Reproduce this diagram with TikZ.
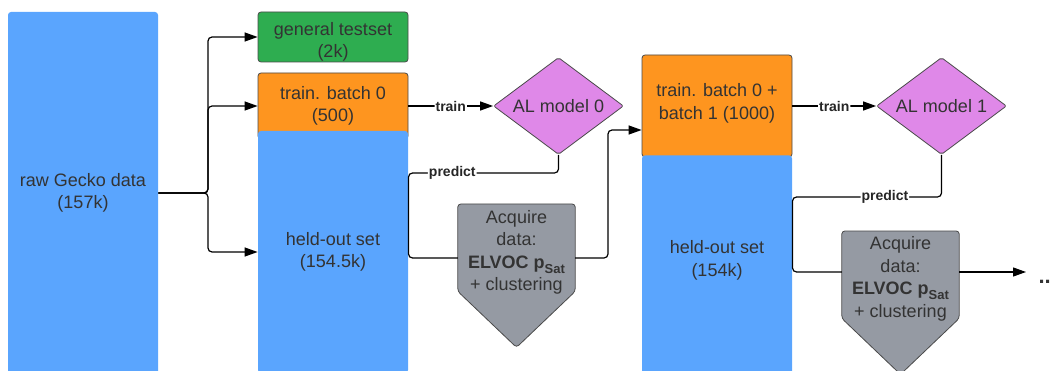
\documentclass[tikz,border=0pt]{standalone}
\usepackage{fontspec}
\setmainfont{Liberation Sans}
\usetikzlibrary{arrows.meta,shapes.geometric,calc}
\definecolor{cblue}{HTML}{5AA5FE}
\definecolor{cgreen}{HTML}{2EAD50}
\definecolor{corange}{HTML}{FE951F}
\definecolor{cpurple}{HTML}{DF88E8}
\definecolor{cgray}{HTML}{959AA3}
\definecolor{edge}{HTML}{4A4A4A}
\definecolor{txt}{HTML}{333333}
\begin{document}
\begin{tikzpicture}[x=1pt,y=-1pt,
  every node/.style={text=txt},
  font=\fontsize{18}{22.5}\selectfont,
  box/.style={rectangle, rounded corners=3pt, minimum width=150pt, align=center, inner sep=0pt, draw=edge, line width=0.8pt},
  bluebox/.style={box, fill=cblue, draw=none},
  txtnode/.style={align=center, inner sep=0pt},
  modelbox/.style={diamond, aspect=1.34, minimum width=130pt, minimum height=97pt, inner sep=0pt, fill=cpurple, draw=edge, line width=0.8pt, rounded corners=2pt},
  acqframe/.style={rectangle, minimum width=117pt, minimum height=87pt, inner sep=0pt},
  pent/.style={fill=cgray, draw=edge, line width=0.8pt, rounded corners=3pt},
  conn/.style={draw=black, line width=1.2pt, rounded corners=4pt},
  arr/.style={conn, -{Triangle[length=13pt,width=9pt]}},
  lbl/.style={font=\bfseries\fontsize{14}{14}\selectfont, fill=white, inner sep=1pt, text=black!85}
]
\useasboundingbox (0,0) rectangle (1056,371);
\clip (0,0) rectangle (1056,371);

% column 1
\node[bluebox, minimum height=362pt] (raw) at (83,193) {raw Gecko data\\(157k)};

% column 2
\node[box, fill=cgreen, minimum height=50pt] (test) at (333,37) {};
\node[txtnode] (testt) at (333,42) {general testset\\(2k)};
\node[box, fill=corange, minimum height=66pt] (b0) at (333,106) {train. batch 0\\(500)};
\node[bluebox, minimum height=242pt] (held0) at (333,252) {held-out set\\(154.5k)};

% model 0 and acquisition 0
\node[modelbox] (al0) at (558.5,106) {AL model 0};
\node[acqframe, anchor=north] (acq0) at (516.5,204) {};
\draw[pent] (acq0.north) -- (acq0.north east) -- (acq0.south east) -- ($(acq0.south)+(0,56)$) -- (acq0.south west) -- (acq0.north west) -- cycle;
\node[txtnode] (acq0t) at ($(acq0.center)+(0,4.5)$) {Acquire\\data:\\\textbf{ELVOC p\raisebox{-0.28em}{\fontsize{13}{13}\selectfont Sat}}\\+ clustering};

% column 3
\node[box, fill=corange, minimum height=102pt] (b1) at (717,106) {};
\node[txtnode] (b1t) at (717,103.5) {train. batch 0 +\\batch 1 (1000)};
\node[bluebox, minimum height=225pt, anchor=north] (held1) at (717,155) {};
\node[txtnode] (held1t) at (717,260.5) {held-out set\\(154k)};

% model 1 and acquisition 1
\node[modelbox] (al1) at (941.5,106) {AL model 1};
\node[acqframe, anchor=north] (acq1) at (900.5,231) {};
\draw[pent] (acq1.north) -- (acq1.north east) -- (acq1.south east) -- ($(acq1.south)+(0,56)$) -- (acq1.south west) -- (acq1.north west) -- cycle;
\node[txtnode] (acq1t) at ($(acq1.center)+(0,4)$) {Acquire\\data:\\\textbf{ELVOC p\raisebox{-0.28em}{\fontsize{13}{13}\selectfont Sat}}\\+ clustering};

\node[anchor=base west, font=\bfseries\fontsize{22}{22}\selectfont] (dots) at (1035,283) {..};

% connectors
\coordinate (split) at (208,193);
\draw[arr] (raw.east) -- (split) |- (test.west);
\draw[arr] (raw.east) -- (split) |- (b0.west);
\draw[arr] (raw.east) -- (split) |- (held0.west);

\draw[arr] (b0.east) -- node[lbl]{train} (al0.west);
\coordinate (p0) at (408.5,173);
\coordinate (acq0in) at (acq0.west |- 0,258);
\coordinate (acq0out) at (acq0.east |- 0,258);
\coordinate (r0) at (608,258);
\coordinate (t1) at (b1.west |- 0,130);
\draw[conn] (al0.south) |- node[lbl,pos=0.854]{predict} (p0) |- (acq0in);
\draw[arr] (acq0out) -- (r0) |- (t1);

\draw[arr] (b1.east) -- node[lbl]{train} (al1.west);
\coordinate (p1) at (792.5,197);
\coordinate (acq1in) at (acq1.west |- 0,272);
\coordinate (acq1out) at (acq1.east |- 0,272);
\coordinate (more) at (1026,272);
\draw[conn] (al1.south) |- node[lbl,pos=0.69]{predict} (p1) |- (acq1in);
\draw[arr] (acq1out) -- (more);
\end{tikzpicture}
\end{document}
